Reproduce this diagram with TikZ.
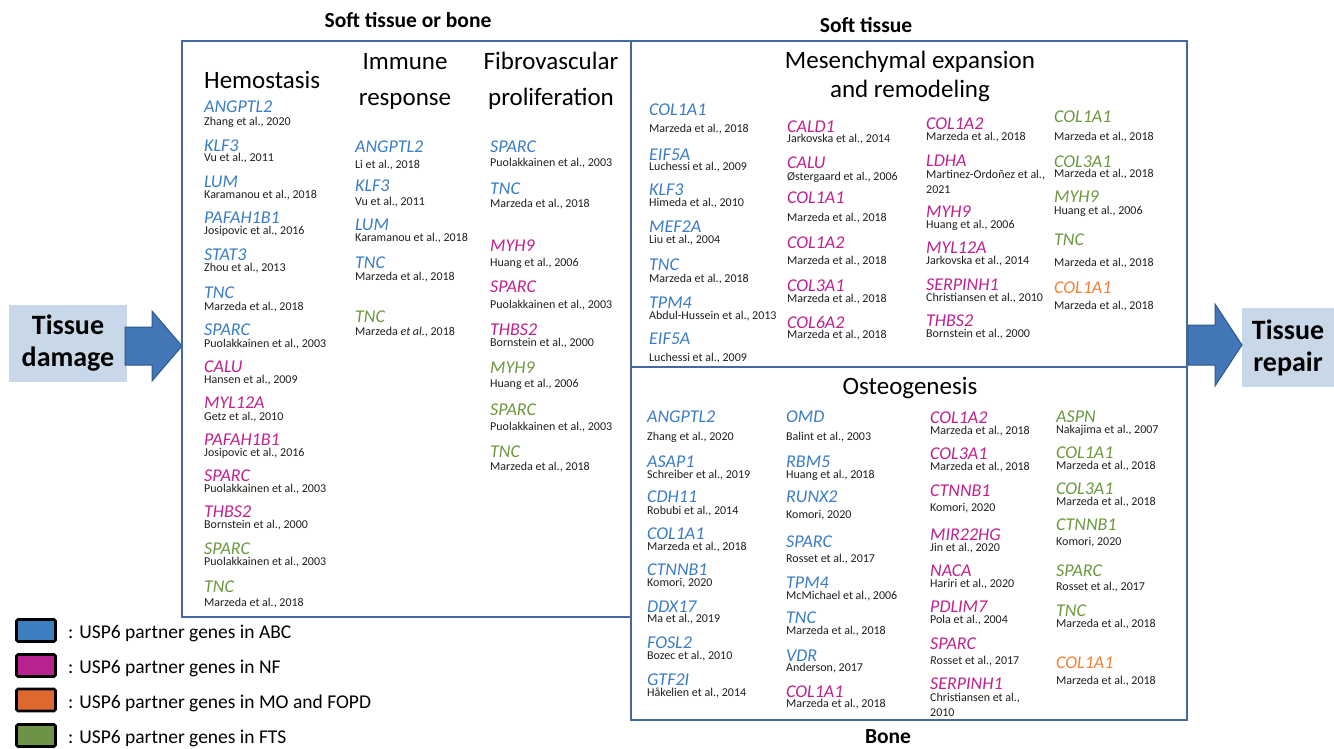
\documentclass[tikz,border=0pt]{standalone}
\usepackage{fontspec}
\setmainfont{Carlito}
\usepackage{xcolor}
\usepackage{tikz}
\usetikzlibrary{positioning,arrows.meta}

\definecolor{abc}{RGB}{58,125,198}
\definecolor{nf}{RGB}{190,34,142}
\definecolor{mo}{RGB}{242,128,52}
\definecolor{fts}{RGB}{108,152,62}
\definecolor{abckey}{RGB}{60,128,193}
\definecolor{nfkey}{RGB}{183,35,143}
\definecolor{mokey}{RGB}{222,104,48}
\definecolor{ftskey}{RGB}{110,146,72}
\definecolor{frame}{RGB}{66,106,160}
\definecolor{arrowfill}{RGB}{67,119,184}
\definecolor{arrowline}{RGB}{47,88,140}
\definecolor{stagefill}{RGB}{200,216,233}

\begin{document}
\begin{tikzpicture}[
		x=1pt,y=-1pt,
		panel/.style={draw=frame,line width=2.5pt},
		gene/.style={anchor=west,inner sep=0pt,text height=11.6pt,text depth=0pt,font=\fontsize{18}{20}\selectfont\itshape},
		cite/.style={anchor=west,inner sep=0pt,text height=7.5pt,text depth=1.5pt,text=black!88,font=\fontsize{12}{15}\selectfont},
		phase/.style={inner sep=0pt,align=center,font=\fontsize{25}{33}\selectfont},
		tissue/.style={inner sep=0pt,font=\fontsize{21.5}{24}\selectfont\bfseries},
		stage/.style={fill=stagefill,inner sep=0pt,align=center,font=\fontsize{28}{32}\selectfont\bfseries},
		block arrow/.style={fill=arrowfill,draw=arrowline,line width=1pt,line join=miter},
		key/.style={draw=black,line width=2.6pt,rounded corners=1.5pt,minimum width=39pt,minimum height=22pt,inner sep=0pt},
		key text/.style={anchor=west,inner sep=0pt,font=\fontsize{19.5}{22}\selectfont}
	]
		\useasboundingbox (0,0) rectangle (1334,748);
		\fill[white] (0,0) rectangle (1334,748);

		% Start and end of the healing process, with the block arrows.
		\node[stage,minimum width=118pt,minimum height=77pt] (damage) at (68,343.5) {Tissue\\damage};
		\node[stage,minimum width=92pt,minimum height=79pt] (repair) at (1288,347.5) {Tissue\\repair};
		\draw[block arrow] (125,327) -- (152,327) -- (152,311) -- (182,346)
			-- (152,381) -- (152,365) -- (125,365) -- cycle;
		\draw[block arrow] (1188,325) -- (1215,325) -- (1215,304) -- (1242,345)
			-- (1215,386) -- (1215,365) -- (1188,365) -- cycle;

		% Panels and the tissue they belong to.
		\draw[panel] (182,41) rectangle (631,617);
		\draw[panel] (631,41) rectangle (1187,367);
		\draw[panel] (631,367) rectangle (1187,720);
		\node[tissue] (softbone) at (408,20) {Soft tissue or bone};
		\node[tissue] (soft) at (866,25) {Soft tissue};
		\node[tissue] (bone) at (888,737) {Bone};

		% Phase headings.
		\node[phase,anchor=west] (hemo) at (204,80) {Hemostasis};
		\node[phase] (immune) at (405,81) {Immune\\[3pt]response};
		\node[phase] (fibro) at (551,81) {Fibrovascular\\[3pt]proliferation};
		\node[phase] (mesen) at (910,76) {Mesenchymal expansion\\[-4pt]and remodeling};
		\node[phase] (osteo) at (910,388) {Osteogenesis};

		% Hemostasis.
		\foreach \gy/\cy/\col/\g/\c [count=\i] in {
			107/122/abc/ANGPTL2/{Zhang et al., 2020},
			146/158/abc/KLF3/{Vu et al., 2011},
			182/195/abc/LUM/{Karamanou et al., 2018},
			218/231/abc/PAFAH1B1/{Josipovic et al., 2016},
			255/268/abc/STAT3/{Zhou et al., 2013},
			293/307/abc/TNC/{Marzeda et al., 2018},
			330/344/abc/SPARC/{Puolakkainen et al., 2003},
			367/380/nf/CALU/{Hansen et al., 2009},
			403/417/nf/MYL12A/{Getz et al., 2010},
			440/453/nf/PAFAH1B1/{Josipovic et al., 2016},
			476/489/nf/SPARC/{Puolakkainen et al., 2003},
			512/525/nf/THBS2/{Bornstein et al., 2000},
			549/562/fts/SPARC/{Puolakkainen et al., 2003},
			587/603/fts/TNC/{Marzeda et al., 2018}}{
			\node[gene,text=\col] (hem-\i) at (204,\gy) {\g};
			\node[cite] (hemref-\i) at (204,\cy) {\c};
		}

		% Immune response.
		\foreach \gy/\cy/\col/\g/\c [count=\i] in {
			147/165/abc/ANGPTL2/{Li et al., 2018},
			186/202/abc/KLF3/{Vu et al., 2011},
			225/238/abc/LUM/{Karamanou et al., 2018},
			263/277/abc/TNC/{Marzeda et al., 2018},
			317/332/fts/TNC/{Marzeda \textit{et al.}, 2018}}{
			\node[gene,text=\col] (imm-\i) at (355,\gy) {\g};
			\node[cite] (immref-\i) at (355,\cy) {\c};
		}

		% Fibrovascular proliferation.
		\foreach \gy/\cy/\col/\g/\c [count=\i] in {
			147/163/abc/SPARC/{Puolakkainen et al., 2003},
			189/204/abc/TNC/{Marzeda et al., 2018},
			246/263/nf/MYH9/{Huang et al., 2006},
			287/305/nf/SPARC/{Puolakkainen et al., 2003},
			330/343/nf/THBS2/{Bornstein et al., 2000},
			368/384/fts/MYH9/{Huang et al., 2006},
			410/427/fts/SPARC/{Puolakkainen et al., 2003},
			452/467/fts/TNC/{Marzeda et al., 2018}}{
			\node[gene,text=\col] (fib-\i) at (490,\gy) {\g};
			\node[cite] (fibref-\i) at (490,\cy) {\c};
		}

		% Mesenchymal expansion and remodeling, four columns.
		\foreach \gy/\cy/\col/\g/\c [count=\i] in {
			110/129/abc/COL1A1/{Marzeda et al., 2018},
			155/167/abc/EIF5A/{Luchessi et al., 2009},
			190/203/abc/KLF3/{Himeda et al., 2010},
			227/240/abc/MEF2A/{Liu et al., 2004},
			265/279/abc/TNC/{Marzeda et al., 2018},
			303/316/abc/TPM4/{Abdul-Hussein et al., 2013},
			339/358/abc/EIF5A/{Luchessi et al., 2009}}{
			\node[gene,text=\col] (mesa-\i) at (649,\gy) {\g};
			\node[cite] (mesaref-\i) at (649,\cy) {\c};
		}
		\foreach \gy/\cy/\col/\g/\c [count=\i] in {
			127/139/nf/CALD1/{Jarkovska et al., 2014},
			163/177/nf/CALU/{Østergaard et al., 2006},
			198/218/nf/COL1A1/{Marzeda et al., 2018},
			243/261/nf/COL1A2/{Marzeda et al., 2018},
			286/299/nf/COL3A1/{Marzeda et al., 2018},
			323/335/nf/COL6A2/{Marzeda et al., 2018}}{
			\node[gene,text=\col] (mesb-\i) at (787,\gy) {\g};
			\node[cite] (mesbref-\i) at (787,\cy) {\c};
		}
		\foreach \gy/\cy/\col/\g/\c [count=\i] in {
			124/137/nf/COL1A2/{Marzeda et al., 2018},
			161/175/nf/LDHA/{Martinez-Ordoñez et al.,},
			212/225/nf/MYH9/{Huang et al., 2006},
			248/261/nf/MYL12A/{Jarkovska et al., 2014},
			285/298/nf/SERPINH1/{Christiansen et al., 2010},
			321/334/nf/THBS2/{Bornstein et al., 2000}}{
			\node[gene,text=\col] (mesc-\i) at (926,\gy) {\g};
			\node[cite] (mescref-\i) at (926,\cy) {\c};
		}
		\node[cite] (ldhayear) at (926,190) {2021};
		\foreach \gy/\cy/\col/\g/\c [count=\i] in {
			117/137/fts/COL1A1/{Marzeda et al., 2018},
			162/174/fts/COL3A1/{Marzeda et al., 2018},
			197/211/fts/MYH9/{Huang et al., 2006},
			240/263/fts/TNC/{Marzeda et al., 2018},
			288/306/mo/COL1A1/{Marzeda et al., 2018}}{
			\node[gene,text=\col] (mesd-\i) at (1054,\gy) {\g};
			\node[cite] (mesdref-\i) at (1054,\cy) {\c};
		}

		% Osteogenesis, four columns.
		\foreach \gy/\cy/\col/\g/\c [count=\i] in {
			417/437/abc/ANGPTL2/{Zhang et al., 2020},
			462/475/abc/ASAP1/{Schreiber et al., 2019},
			497/511/abc/CDH11/{Robubi et al., 2014},
			534/547/abc/COL1A1/{Marzeda et al., 2018},
			570/583/abc/CTNNB1/{Komori, 2020},
			607/619/abc/DDX17/{Ma et al., 2019},
			643/656/abc/FOSL2/{Bozec et al., 2010},
			680/693/abc/GTF2I/{Håkelien et al., 2014}}{
			\node[gene,text=\col] (osta-\i) at (647,\gy) {\g};
			\node[cite] (ostaref-\i) at (647,\cy) {\c};
		}
		\foreach \gy/\cy/\col/\g/\c [count=\i] in {
			417/437/abc/OMD/{Balint et al., 2003},
			462/475/abc/RBM5/{Huang et al., 2018},
			497/515/abc/RUNX2/{Komori, 2020},
			542/559/abc/SPARC/{Rosset et al., 2017},
			583/596/abc/TPM4/{McMichael et al., 2006},
			618/631/abc/TNC/{Marzeda et al., 2018},
			656/668/abc/VDR/{Anderson, 2017},
			692/704/nf/COL1A1/{Marzeda et al., 2018}}{
			\node[gene,text=\col] (ostb-\i) at (786,\gy) {\g};
			\node[cite] (ostbref-\i) at (786,\cy) {\c};
		}
		\foreach \gy/\cy/\col/\g/\c [count=\i] in {
			418/431/nf/COL1A2/{Marzeda et al., 2018},
			454/467/nf/COL3A1/{Marzeda et al., 2018},
			491/508/nf/CTNNB1/{Komori, 2020},
			535/548/nf/MIR22HG/{Jin et al., 2020},
			571/584/nf/NACA/{Hariri et al., 2020},
			607/620/nf/PDLIM7/{Pola et al., 2004},
			644/661/nf/SPARC/{\textit{R}osset et al., 2017},
			684/698/nf/SERPINH1/{Christiansen et al.,}}{
			\node[gene,text=\col] (ostc-\i) at (930,\gy) {\g};
			\node[cite] (ostcref-\i) at (930,\cy) {\c};
		}
		\node[cite] (serpinyear) at (930,713) {2010};
		\foreach \gy/\cy/\col/\g/\c [count=\i] in {
			417/430/fts/ASPN/{Nakajima et al., 2007},
			453/466/fts/COL1A1/{Marzeda et al., 2018},
			489/502/fts/COL3A1/{Marzeda et al., 2018},
			525/542/fts/CTNNB1/{Komori, 2020},
			571/587/fts/SPARC/{Rosset et al., 2017},
			611/624/fts/TNC/{Marzeda et al., 2018},
			663/681/mo/COL1A1/{Marzeda et al., 2018}}{
			\node[gene,text=\col] (ostd-\i) at (1056,\gy) {\g};
			\node[cite] (ostdref-\i) at (1056,\cy) {\c};
		}

		% Colour legend.
		\foreach \ky/\col/\txt [count=\i] in {
			630.5/abckey/ABC,
			665.5/nfkey/NF,
			700/mokey/{MO and FOPD},
			735.5/ftskey/FTS}{
			\node[key,fill=\col] (key-\i) at (36,\ky) {};
			\node[key text] (keytext-\i) at (68,\ky+3) {: USP6 partner genes in \txt};
		}
	\end{tikzpicture}
\end{document}
